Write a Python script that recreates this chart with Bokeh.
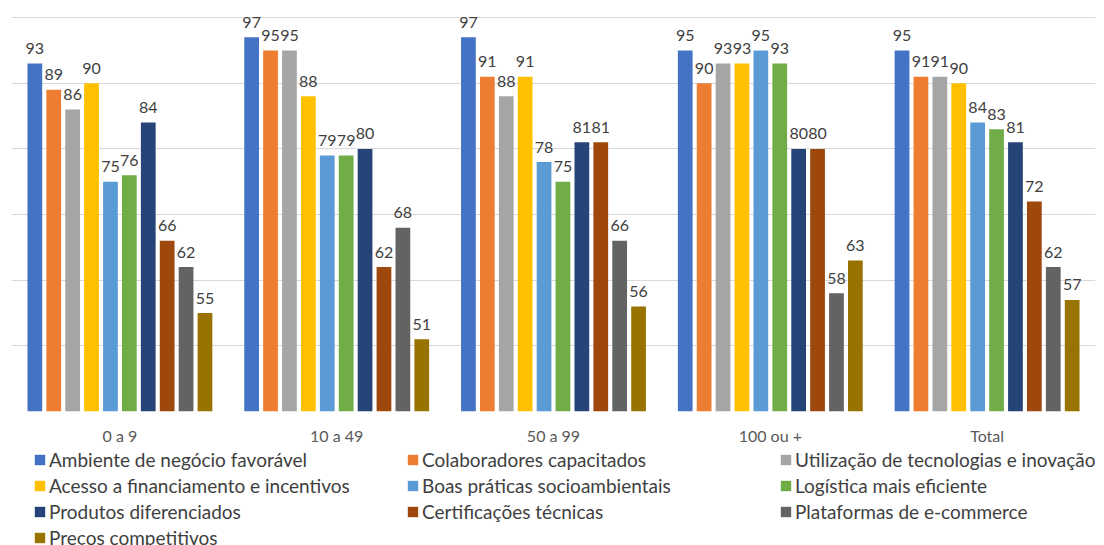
from bokeh.plotting import figure
from bokeh.layouts import column
from bokeh.models import ColumnDataSource, FactorRange, Range1d, FixedTicker, Legend, LegendItem
from bokeh.transform import dodge
from bokeh.core.properties import value
from bokeh.embed import file_html
from bokeh.resources import INLINE

categories = ["0 a 9", "10 a 49", "50 a 99", "100 ou +", "Total"]

series_names = [
    "Ambiente de negócio favorável",
    "Colaboradores capacitados",
    "Utilização de tecnologias e inovação",
    "Acesso a financiamento e incentivos",
    "Boas práticas socioambientais",
    "Logística mais eficiente",
    "Produtos diferenciados",
    "Certificações técnicas",
    "Plataformas de e-commerce",
    "Preços competitivos",
]

ambiente = [93, 97, 97, 95, 95]
colaboradores = [89, 95, 91, 90, 91]
utilizacao = [86, 95, 88, 93, 91]
acesso = [90, 88, 91, 93, 90]
boas_praticas = [75, 79, 78, 95, 84]
logistica = [76, 79, 75, 93, 83]
produtos = [84, 80, 81, 80, 81]
certificacoes = [66, 62, 81, 80, 72]
plataformas = [62, 68, 66, 58, 62]
precos = [55, 51, 56, 63, 57]

series_values = [ambiente, colaboradores, utilizacao, acesso, boas_praticas,
                 logistica, produtos, certificacoes, plataformas, precos]

colors = ["#4472C4", "#ED7D31", "#A5A5A5", "#FFC000", "#5B9BD5",
          "#70AD47", "#264478", "#9E480E", "#636363", "#997300"]

grid_ticks = [40, 50, 60, 70, 80, 90, 100]

FONT = "Lato"

p = figure(x_range=FactorRange(*categories), y_range=Range1d(40, 102.6),
           frame_width=1084, frame_height=411,
           min_border_left=11, min_border_right=9, min_border_top=0, min_border_bottom=0,
           output_backend="svg", toolbar_location=None)

p.outline_line_color = None
p.xgrid.visible = False
p.yaxis.visible = False
p.ygrid.ticker = FixedTicker(ticks=grid_ticks)
p.ygrid.grid_line_color = "#D9D9D9"
p.ygrid.grid_line_width = 1

p.xaxis.axis_line_color = None
p.xaxis.major_tick_line_color = None
p.xaxis.minor_tick_line_color = None
p.xaxis.major_label_text_font = FONT
p.xaxis.major_label_text_font_size = "16px"
p.xaxis.major_label_text_color = "#595959"
p.xaxis.major_label_standoff = 8

# legend strip below the chart
lg = figure(width=1104, height=99, x_range=Range1d(0, 1), y_range=Range1d(0, 1),
            min_border=0, output_backend="svg", toolbar_location=None)
lg.axis.visible = False
lg.grid.visible = False
lg.outline_line_color = None

pitch = 0.0872
bar_w = 0.068
items = []
for j, (name, vals, col) in enumerate(zip(series_names, series_values, colors)):
    off = (j - 4.5) * pitch
    src = ColumnDataSource(dict(cat=categories, val=vals, lbl=[str(v) for v in vals]))
    p.vbar(x=dodge("cat", off, range=p.x_range), top="val", bottom=40, width=bar_w,
           source=src, fill_color=col, line_color=None)
    p.text(x=dodge("cat", off, range=p.x_range), y="val", text="lbl", source=src,
           text_align="center", text_baseline="alphabetic", y_offset=-15,
           text_font=value(FONT), text_font_size="16px", text_color="#404040")
    # off-screen proxy so the legend strip can show the swatch
    lr = lg.vbar(x=[-5], top=[-5], bottom=[-6], width=0.1, fill_color=col, line_color=None)
    items.append(LegendItem(label=name, renderers=[lr]))

col_x = [22, 395, 768]
col_y = [-3, 23, 23]
for c in range(3):
    leg = Legend(items=items[c::3], location=(col_x[c], col_y[c]),
                 glyph_width=13, glyph_height=13, label_standoff=3,
                 label_height=21, spacing=3,
                 label_text_font=FONT, label_text_font_size="19px",
                 label_text_color="#404040",
                 padding=0, margin=0,
                 background_fill_alpha=0, border_line_color=None)
    lg.add_layout(leg)

layout = column(p, lg, spacing=0)
open("out.html", "w").write(file_html(layout, INLINE))
